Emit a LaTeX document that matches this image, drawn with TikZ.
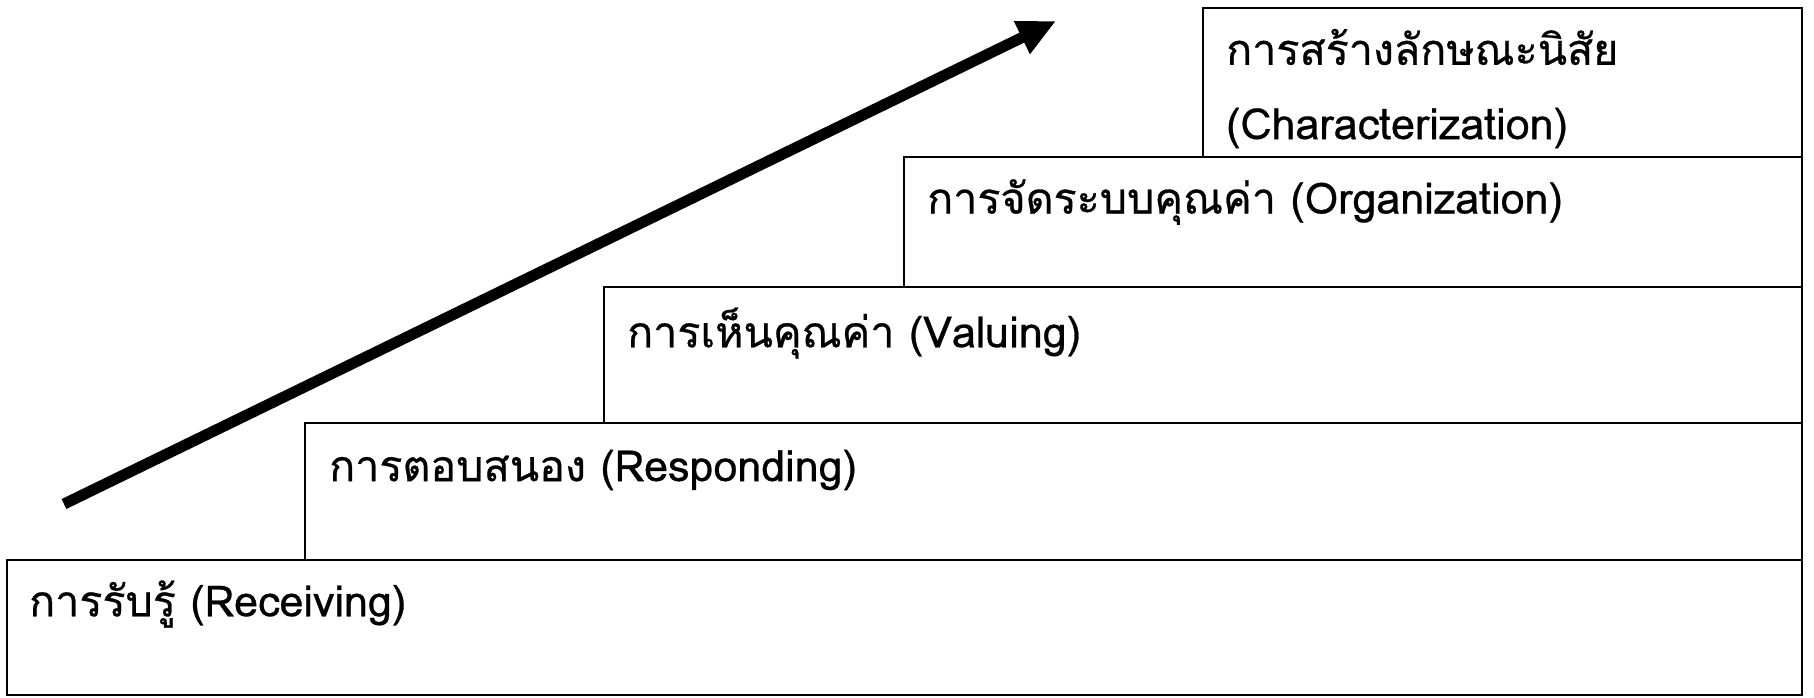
\documentclass[tikz,border=0pt]{standalone}
\usepackage{fontspec}
\setmainfont[Script=Thai,FakeBold=0.6]{Loma}
\usetikzlibrary{arrows.meta}
\begin{document}
\begin{tikzpicture}[x=1pt,y=-1pt,
  stepbox/.style={draw=black,line width=1.6pt,fill=none},
  lbl/.style={anchor=west,inner sep=0pt,font=\fontsize{43}{72}\selectfont},
  bigarrow/.style={line width=11pt,-{Triangle[length=38pt,width=34pt]}}]
\useasboundingbox (0,0) rectangle (1814,697);
% boxes
\draw[stepbox] (7,560) rectangle (1802,695);
\draw[stepbox] (305,423) rectangle (1802,560);
\draw[stepbox] (604,287) rectangle (1802,423);
\draw[stepbox] (904,157) rectangle (1802,287);
\draw[stepbox] (1203,8) rectangle (1802,157);
% labels
\node[lbl] (l1) at (29,604) {การรับรู้ (Receiving)};
\node[lbl] (l2) at (329,470) {การตอบสนอง (Responding)};
\node[lbl] (l3) at (627,333) {การเห็นคุณค่า (Valuing)};
\node[lbl] (l4) at (927,202) {การจัดระบบคุณค่า (Organization)};
\node[lbl] (l5a) at (1226,47) {การสร้างลักษณะนิสัย};
\node[lbl] (l5b) at (1226,128) {(Characterization)};
% arrow
\coordinate (as) at (64,504);
\coordinate (ae) at (1056,21);
\draw[bigarrow] (as) -- (ae);
\end{tikzpicture}
\end{document}
